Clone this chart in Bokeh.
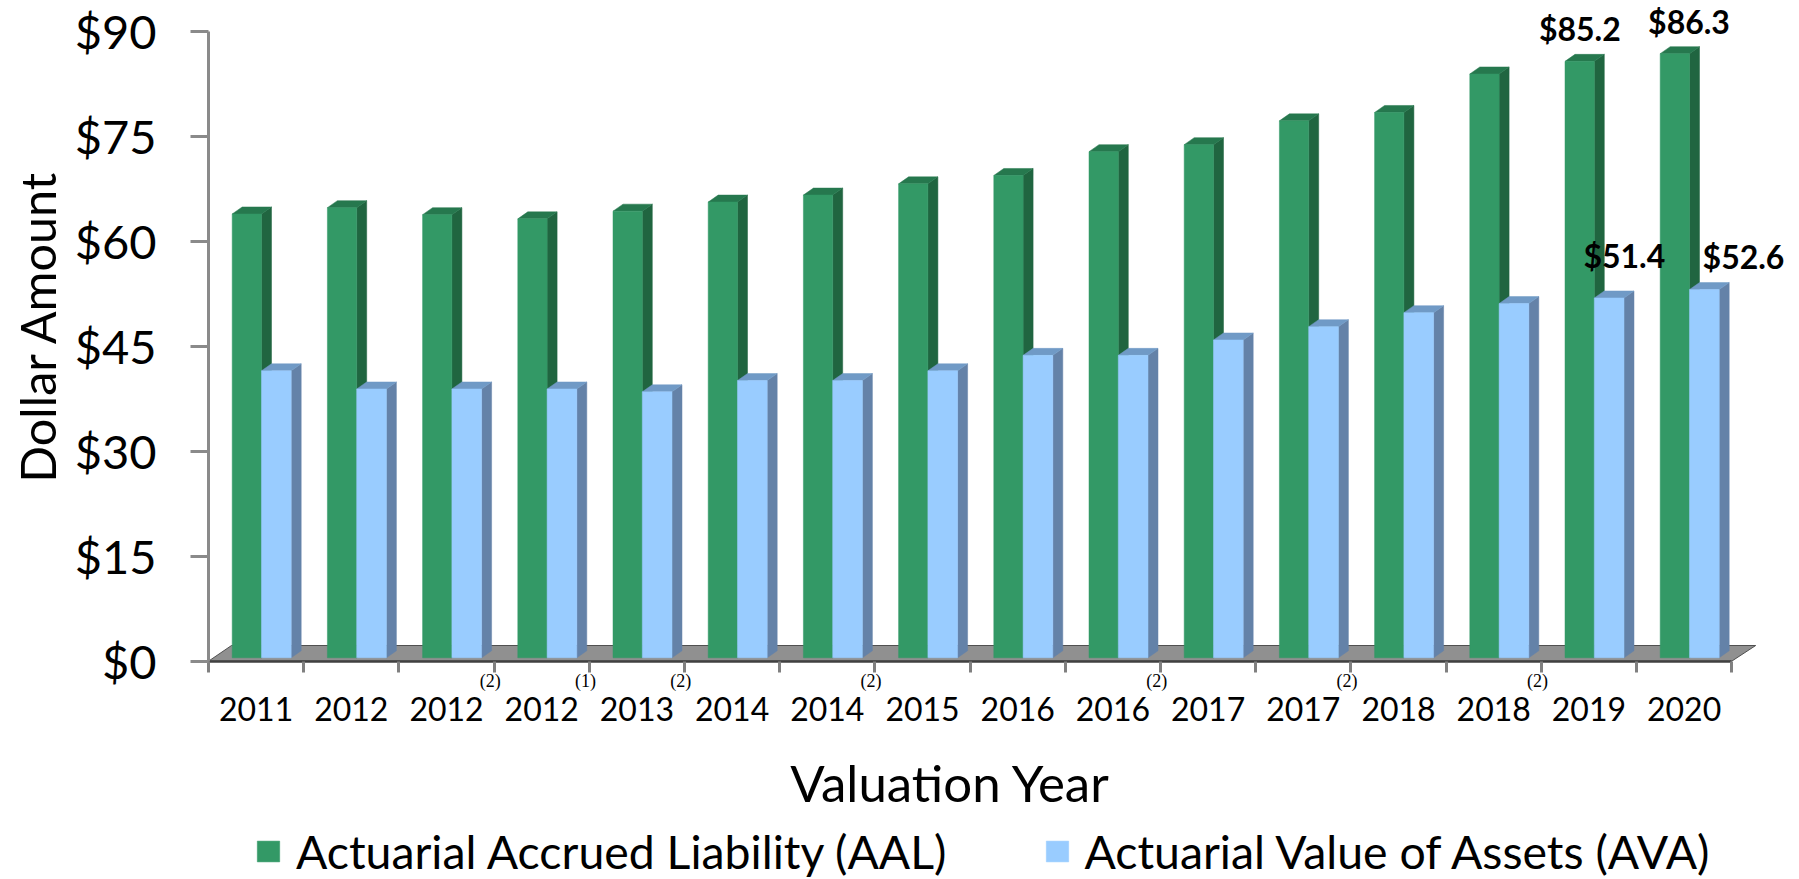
from bokeh.plotting import figure
from bokeh.models import FixedTicker, PrintfTickFormatter, Label, Legend, LegendItem, ColumnDataSource, LabelSet
from bokeh.embed import file_html
from bokeh.resources import INLINE
import numpy as np

# ---------- data ----------
years = ["2011","2012","2012","2012","2013","2014","2014","2015","2016","2016","2017","2017","2018","2018","2019","2020"]
footnotes = ["","","(2)","(1)","(2)","","(2)","","","(2)","","(2)","","(2)","",""]
aal = [63.4,64.3,63.3,62.7,63.8,65.1,66.1,67.7,68.9,72.3,73.3,76.7,77.9,83.4,85.2,86.3]
ava = [41.0,38.4,38.4,38.4,38.0,39.6,39.6,41.0,43.2,43.2,45.4,47.3,49.3,50.6,51.4,52.6]
yticks = [0,15,30,45,60,75,90]

FONT = "Lato"
GREEN, GREEN_SIDE, GREEN_TOP = "#339966", "#206540", "#26784e"
BLUE, BLUE_SIDE, BLUE_TOP = "#99ccff", "#6482a8", "#709ac6"

W, H = 1799, 879
X0, Y0 = 208, 660.7      # pixel position of the axes' corner
n = len(years)
pitch_px = 95.2
unit_px = 7.0
dx = 10 / pitch_px       # oblique depth, in x units
dy = 7 / unit_px         # oblique depth, in y units
base = 0.49              # bars stand slightly in front of the axis plane

def px(x):
    return (x - X0) / pitch_px

def py(y):
    return (Y0 - y) / unit_px

p = figure(width=W, height=H, x_range=(px(0), px(W)), y_range=(py(H), py(0)),
           min_border_left=0, min_border_right=0, min_border_top=0, min_border_bottom=0,
           output_backend="svg", toolbar_location=None, tools="")
p.grid.visible = False
p.outline_line_color = None
p.background_fill_color = "white"
p.border_fill_color = "white"

# floor
bd = 15.7 / unit_px
p.patch([0, 23 / pitch_px, n + 24 / pitch_px, n], [0, bd, bd, 0],
        fill_color="#909090", line_color="#505050", line_width=1)

def bars(x0, x1, vals, front, side, top):
    xs = np.arange(n)
    t = np.array(vals) + base
    p.patches([[a + x1, a + x1 + dx, a + x1 + dx, a + x1] for a in xs],
              [[base, base + dy, v + dy, v] for v in t],
              fill_color=side, line_color=side, line_width=0.5)
    p.patches([[a + x0, a + x0 + dx, a + x1 + dx, a + x1] for a in xs],
              [[v, v + dy, v + dy, v] for v in t],
              fill_color=top, line_color=top, line_width=0.5)
    return p.quad(left=xs + x0, right=xs + x1, bottom=base, top=t,
                  fill_color=front, line_color=front, line_width=0.5)

g = bars(23.7 / pitch_px, 53 / pitch_px, aal, GREEN, GREEN_SIDE, GREEN_TOP)
b = bars(53 / pitch_px, 82.7 / pitch_px, ava, BLUE, BLUE_SIDE, BLUE_TOP)

# axes
ya = p.yaxis[0]
ya.fixed_location = 0
ya.bounds = (0, 90)
ya.ticker = FixedTicker(ticks=yticks)
ya.formatter = PrintfTickFormatter(format="$%d")
ya.axis_line_color = "#8a8a8a"
ya.axis_line_width = 3
ya.major_tick_line_color = "#8a8a8a"
ya.major_tick_line_width = 3
ya.major_tick_in = 0
ya.major_tick_out = 18
ya.minor_tick_line_color = None
ya.major_label_text_font = FONT
ya.major_label_text_font_size = "47px"
ya.major_label_text_color = "black"
ya.major_label_standoff = 34

xa = p.xaxis[0]
xa.fixed_location = 0
xa.bounds = (0, n)
xa.ticker = FixedTicker(ticks=[i + 0.5 for i in range(n)], minor_ticks=list(range(n + 1)))
xa.major_label_overrides = {i + 0.5: y for i, y in enumerate(years)}
xa.axis_line_color = "#404040"
xa.axis_line_width = 2.5
xa.major_tick_line_color = None
xa.minor_tick_line_color = "#808080"
xa.minor_tick_line_width = 3
xa.minor_tick_in = 0
xa.minor_tick_out = 11
xa.major_tick_in = 0
xa.major_tick_out = 0
xa.major_label_text_font = FONT
xa.major_label_text_font_size = "32px"
xa.major_label_text_color = "black"
xa.major_label_standoff = 25

# axis titles
p.add_layout(Label(x=px(36), y=py(326), text="Dollar Amount",
                   angle=90, angle_units="deg", text_align="center", text_baseline="middle",
                   text_font=FONT, text_font_size="48.5px", text_color="black"))
p.add_layout(Label(x=px(950), y=py(782), text="Valuation Year",
                   text_align="center", text_baseline="middle",
                   text_font=FONT, text_font_size="51px", text_color="black"))

# footnote markers
fi = [i for i, f in enumerate(footnotes) if f]
fs = ColumnDataSource(dict(x=[i + 0.96 for i in fi], y=[py(680)] * len(fi), t=[footnotes[i] for i in fi]))
p.add_layout(LabelSet(x="x", y="y", text="t", source=fs, text_align="center", text_baseline="middle",
                      text_font=FONT, text_font_size="18px", text_color="black"))

# value labels on the last two years
for idx, vals, bar_c, ox, oy in [
    (14, aal, 38.5, 0, 33), (15, aal, 38.5, 14, 32),
    (14, ava, 68, 15, 42), (15, ava, 68, 39, 33)]:
    p.add_layout(Label(x=idx + bar_c / pitch_px, y=vals[idx] + base, x_offset=ox, y_offset=oy,
                       text="$%.1f" % vals[idx], text_align="center", text_baseline="middle",
                       text_font=FONT, text_font_style="bold", text_font_size="32px", text_color="black"))

legend = Legend(items=[LegendItem(label="Actuarial Accrued Liability (AAL)", renderers=[g]),
                       LegendItem(label="Actuarial Value of Assets (AVA)", renderers=[b])],
                orientation="horizontal", location=(254, 0), padding=0, margin=0, spacing=96,
                border_line_color=None, background_fill_color=None, background_fill_alpha=0,
                glyph_width=28, glyph_height=26, label_standoff=14,
                label_text_font=FONT, label_text_font_size="46.4px", label_text_color="black")
p.add_layout(legend)

open("out.html", "w").write(file_html(p, INLINE))
